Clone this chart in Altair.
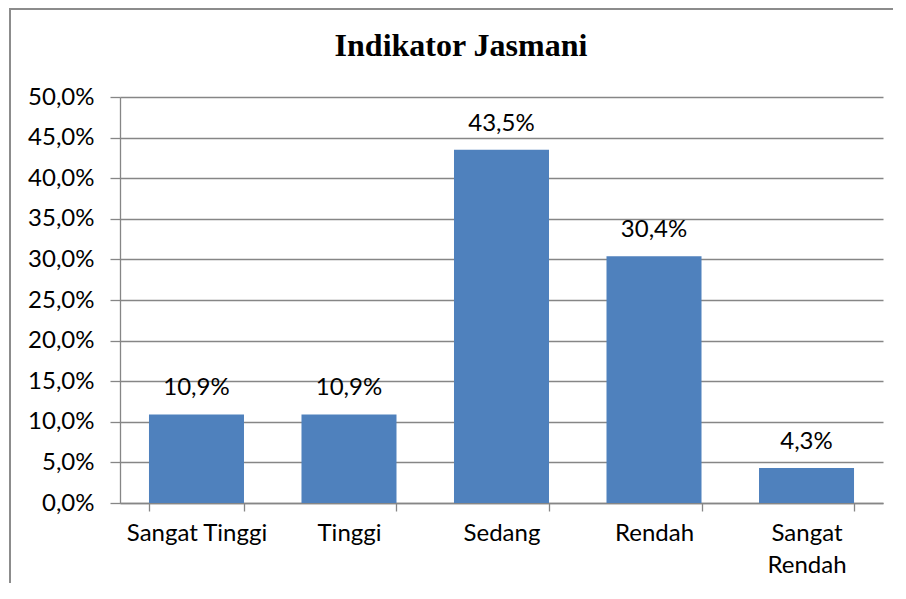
import altair as alt
import pandas as pd

categories = ["Sangat Tinggi", "Tinggi", "Sedang", "Rendah", "Sangat\nRendah"]
values = [10.9, 10.9, 43.5, 30.4, 4.3]
labels = ["10,9%", "10,9%", "43,5%", "30,4%", "4,3%"]
y_ticks = [0, 5, 10, 15, 20, 25, 30, 35, 40, 45, 50]
title_text = "Indikator Jasmani"

df = pd.DataFrame({"cat": categories, "val": values, "lab": labels})

FONT = "Lato"
FS = 24
GRID = "#868686"
FRAME = "#8c8c8c"

x_enc = alt.X(
    "cat:N",
    sort=categories,
    title=None,
    scale=alt.Scale(paddingInner=0.377, paddingOuter=0.19),
    axis=alt.Axis(
        labelAngle=0,
        labelFont=FONT,
        labelFontSize=FS,
        labelColor="black",
        labelPadding=10,
        labelLineHeight=32,
        labelExpr="split(datum.label, '\\n')",
        tickBand="extent",
        tickSize=8,
        tickColor=GRID,
        domainColor=GRID,
        domainWidth=1.3,
        tickWidth=1.3,
        grid=False,
        labelBaseline="top",
    ),
)
y_enc = alt.Y(
    "val:Q",
    title=None,
    scale=alt.Scale(domain=[0, 50], nice=False),
    axis=alt.Axis(
        values=y_ticks,
        labelExpr="replace(format(datum.value, '.1f'), '.', ',') + '%'",
        labelFont=FONT,
        labelFontSize=FS,
        labelColor="black",
        labelPadding=16,
        tickSize=10,
        tickColor=GRID,
        tickWidth=1.3,
        domainColor=GRID,
        domainWidth=1.3,
        gridColor=GRID,
        gridWidth=1.3,
    ),
)

base_one = alt.Chart(pd.DataFrame({"t": [title_text]}))

frame_left = base_one.mark_rect(color=FRAME).encode(
    x=alt.value(-111), x2=alt.value(-109), y=alt.value(-89), y2=alt.value(500)
)
frame_top = base_one.mark_rect(color=FRAME).encode(
    x=alt.value(-111), x2=alt.value(790), y=alt.value(-89), y2=alt.value(-87)
)

title = base_one.mark_text(
    font="Liberation Serif", fontSize=32, fontWeight="bold", color="black",
    align="center", baseline="alphabetic",
).encode(x=alt.value(341), y=alt.value(-41), text="t:N")

bars = alt.Chart(df).mark_bar(color="#4F81BD").encode(x=x_enc, y=y_enc)
text = alt.Chart(df).mark_text(
    font=FONT, fontSize=FS, color="black", baseline="alphabetic", dy=-19
).encode(x=alt.X("cat:N", sort=categories), y="val:Q", text="lab:N")

chart = alt.layer(frame_left, frame_top, bars, text, title).properties(
    width=763,
    height=406,
    autosize=alt.AutoSizeParams(type="none"),
    padding={"left": 112, "top": 89, "right": 10, "bottom": 80},
).configure_view(stroke=None)

chart.save("out.html", embed_options={"renderer": "svg", "actions": False})
